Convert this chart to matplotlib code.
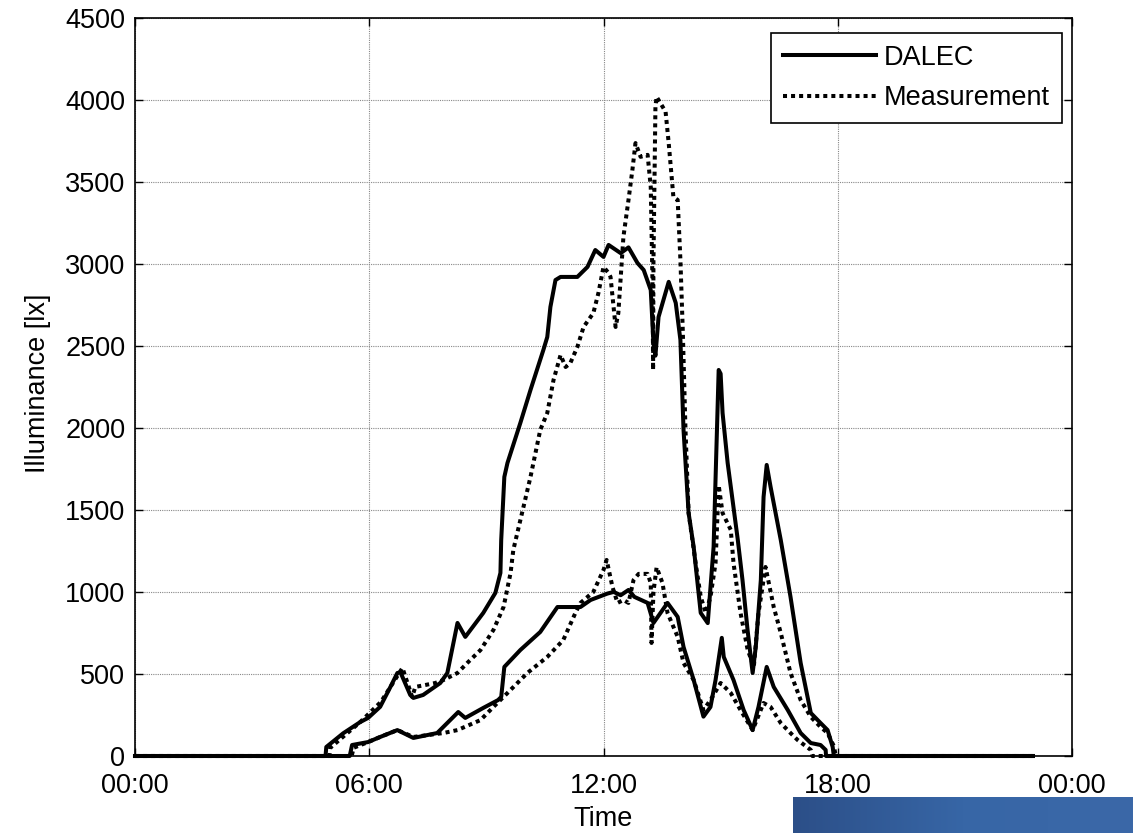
import numpy as np
import matplotlib
matplotlib.use("Agg")
import matplotlib.pyplot as plt
from matplotlib.colors import LinearSegmentedColormap

plt.rcParams['font.family'] = ['Liberation Sans', 'DejaVu Sans']

# ---- data (hours of day, illuminance in lx) ----
dalec_hi_t = [0, 4.88, 4.9, 5.33, 5.77, 5.97, 6.28, 6.54, 6.72, 6.8, 7.05, 7.13, 7.38, 7.82, 8.0,
              8.26, 8.46, 8.92, 9.23, 9.36, 9.38, 9.46, 9.54, 9.87, 10.13, 10.46, 10.56, 10.64,
              10.77, 10.90, 11.33, 11.59, 11.79, 12.0, 12.13, 12.44, 12.64, 12.87, 13.03, 13.21,
              13.28, 13.33, 13.41, 13.67, 13.85, 13.97, 14.05, 14.18, 14.31, 14.49, 14.67, 14.82,
              14.95, 15.0, 15.05, 15.18, 15.44, 15.56, 15.69, 15.82, 15.90, 16.03, 16.10, 16.18,
              16.28, 16.54, 16.79, 17.05, 17.31, 17.56, 17.74, 17.87, 17.90, 23.0]
dalec_hi_v = [0, 0, 55, 138, 207, 232, 300, 420, 506, 510, 372, 354, 372, 445, 506,
              811, 726, 872, 994, 1116, 1317, 1701, 1786, 2030, 2231, 2475, 2554, 2737,
              2901, 2920, 2920, 2981, 3084, 3042, 3115, 3065, 3100, 3005, 2962, 2840,
              2517, 2440, 2676, 2890, 2762, 2536, 1987, 1481, 1274, 872, 810, 1274,
              2353, 2330, 2091, 1786, 1317, 1073, 768, 506, 665, 1073, 1579, 1774,
              1640, 1317, 970, 567, 262, 201, 158, 55, 0, 0]

dalec_lo_t = [0, 5.5, 5.56, 5.97, 6.28, 6.72, 7.13, 7.74, 8.28, 8.46, 8.92, 9.3, 9.38, 9.46,
              9.87, 10.38, 10.82, 11.41, 11.67, 12.10, 12.26, 12.44, 12.64, 12.79, 13.13,
              13.28, 13.64, 13.9, 14.05, 14.31, 14.56, 14.74, 14.87, 15.03, 15.08, 15.33,
              15.59, 15.82, 15.97, 16.18, 16.36, 16.72, 17.05, 17.31, 17.56, 17.69, 17.70, 23.0]
dalec_lo_v = [0, 0, 67, 85, 116, 158, 110, 140, 268, 232, 293, 341, 360, 543,
              646, 756, 908, 908, 951, 990, 1000, 980, 1012, 970, 933,
              811, 933, 848, 665, 463, 240, 299, 463, 720, 604, 463,
              280, 158, 299, 543, 421, 280, 140, 79, 67, 37, 0, 0]

meas_hi_t = [0, 4.98, 5.0, 5.77, 6.3, 6.7, 6.85, 7.1, 7.18, 7.44, 7.69, 7.90, 8.26, 8.51, 8.85,
             9.18, 9.44, 9.62, 9.69, 9.95, 10.13, 10.38, 10.56, 10.72, 10.90, 11.03, 11.15,
             11.33, 11.49, 11.74, 11.87, 12.0, 12.13, 12.18, 12.31, 12.38, 12.51, 12.64, 12.74,
             12.82, 12.95, 13.13, 13.21, 13.26, 13.27, 13.28, 13.33, 13.36, 13.59, 13.67,
             13.79, 13.90, 13.97, 14.03, 14.10, 14.18, 14.36, 14.49, 14.62, 14.74, 14.87,
             14.95, 15.05, 15.26, 15.33, 15.51, 15.69, 15.85, 15.97, 16.15, 16.36, 16.54,
             16.79, 17.05, 17.31, 17.56, 17.74, 17.9, 17.95, 23.0]
meas_hi_v = [0, 0, 50, 207, 330, 480, 537, 360, 421, 433, 445, 463, 506, 567, 646,
             768, 908, 1116, 1256, 1518, 1701, 1987, 2091, 2292, 2444, 2371, 2395,
             2493, 2615, 2700, 2822, 2981, 2944, 2920, 2615, 2700, 3164, 3389, 3572,
             3736, 3652, 3664, 3469, 2822, 2353, 3023, 3957, 4018, 3927, 3736,
             3408, 3389, 3023, 2597, 1987, 1481, 1176, 970, 872, 970, 1176,
             1650, 1481, 1378, 1176, 872, 650, 543, 872, 1152, 908, 750,
             506, 341, 238, 177, 140, 60, 0, 0]

meas_lo_t = [0, 5.55, 5.6, 5.97, 6.28, 6.72, 7.13, 7.9, 8.26, 8.85, 9.18, 9.54, 10.05, 10.56,
             10.97, 11.28, 11.41, 11.74, 12.0, 12.08, 12.23, 12.36, 12.51, 12.64, 12.77,
             12.9, 13.13, 13.21, 13.23, 13.28, 13.36, 13.51, 13.64, 13.9, 14.05, 14.31,
             14.56, 14.74, 15.0, 15.26, 15.51, 15.82, 16.10, 16.28, 16.54, 16.79, 16.97,
             17.31, 17.35, 23.0]
meas_lo_v = [0, 0, 50, 85, 116, 158, 116, 140, 158, 219, 299, 384, 506, 604,
             707, 872, 933, 1000, 1134, 1195, 1030, 933, 951, 933, 1073,
             1110, 1110, 1055, 689, 1000, 1150, 1055, 872, 726, 567, 463,
             280, 341, 445, 384, 280, 158, 323, 299, 201, 140, 98,
             37, 0, 0]

xtick_pos = [0, 6, 12, 18, 24]
xtick_labels = ["00:00", "06:00", "12:00", "18:00", "00:00"]
ytick_pos = list(range(0, 4501, 500))

# ---- figure ----
W, H = 1133, 833
fig = plt.figure(figsize=(W / 100, H / 100), dpi=100)
ax_l, ax_r, ax_t, ax_b = 135, 1072, 17.7, 756
ax = fig.add_axes([ax_l / W, 1 - ax_b / H, (ax_r - ax_l) / W, (ax_b - ax_t) / H])

fs = 19.5
lw = 2.9
dot = (0, (1, 1))
l1, = ax.plot(dalec_hi_t, dalec_hi_v, color='black', lw=lw, clip_on=False, zorder=3)
ax.plot(dalec_lo_t, dalec_lo_v, color='black', lw=lw, clip_on=False, zorder=3)
l2, = ax.plot(meas_hi_t, meas_hi_v, color='black', lw=lw, linestyle=dot, clip_on=False, zorder=3)
ax.plot(meas_lo_t, meas_lo_v, color='black', lw=lw, linestyle=dot, clip_on=False, zorder=3)

ax.set_xlim(0, 24)
ax.set_ylim(0, 4500)
ax.set_xticks(xtick_pos)
ax.set_xticklabels(xtick_labels)
ax.set_yticks(ytick_pos)
ax.tick_params(direction='in', top=True, right=True, length=6, width=1, labelsize=fs)
ax.tick_params(axis='x', pad=12)
ax.tick_params(axis='y', pad=7)
ax.grid(True, color='#888888', linestyle=(0, (1, 1)), linewidth=0.8)
for s in ax.spines.values():
    s.set_linewidth(1.2)

ax.set_xlabel("Time", fontsize=fs)
ax.set_ylabel("Illuminance [lx]", fontsize=fs)
ax.xaxis.set_label_coords(0.5, (ax_b - 819) / (ax_b - ax_t))
ax.xaxis.label.set_verticalalignment('center')
ax.yaxis.set_label_coords((38 - ax_l) / (ax_r - ax_l), (ax_b - 383) / (ax_b - ax_t))
ax.yaxis.label.set_verticalalignment('center')

leg = fig.legend([l1, l2], ["DALEC", "Measurement"], loc='upper right',
                 bbox_to_anchor=(1062 / W, 1 - 33 / H), fontsize=fs,
                 frameon=True, fancybox=False, edgecolor='black', framealpha=1,
                 handlelength=3.45, handletextpad=0.28, labelspacing=0.52,
                 borderpad=0.44, borderaxespad=0)
leg.get_frame().set_linewidth(1.2)

# decorative blue band at bottom right
bax = fig.add_axes([793 / W, 0, 1 - 793 / W, 36 / H])
grad = np.linspace(0, 1, 256).reshape(1, -1)
cmap = LinearSegmentedColormap.from_list("b", ["#2c4f88", "#3766a6", "#3b68a8"])
bax.imshow(grad, aspect='auto', cmap=cmap, extent=[0, 1, 0, 1])
bax.axis('off')

fig.savefig("out.png", dpi=100)
